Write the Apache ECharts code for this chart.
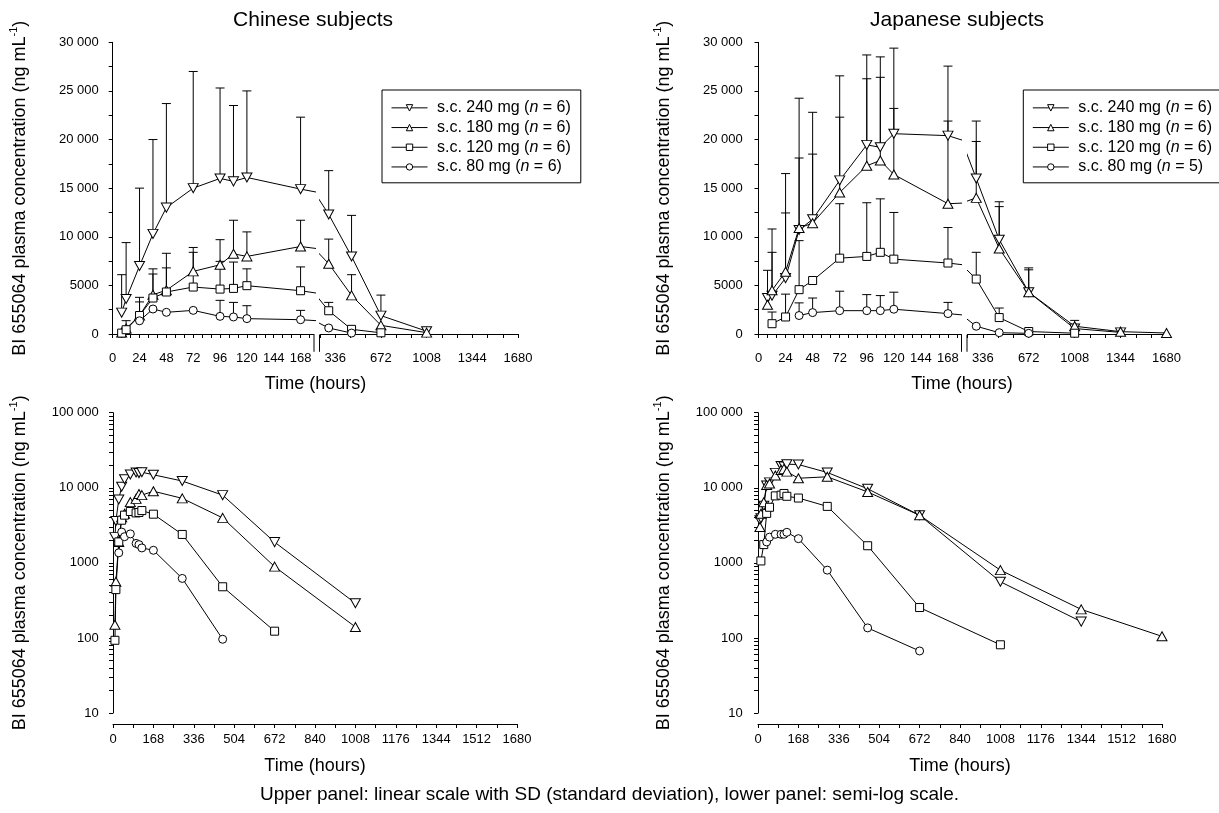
<!DOCTYPE html>
<html><head><meta charset="utf-8">
<script src="https://cdn.jsdelivr.net/npm/echarts@6/dist/echarts.min.js"></script>
<style>html,body{margin:0;padding:0;background:#fff}#c{width:1219px;height:813px}</style>
</head><body><div id="c"></div>
<script>
// ---------------- DATA ----------------
const cnTimes = [8, 12, 24, 36, 48, 72, 96, 108, 120, 168, 288, 456, 672, 1008];
const cn240 = [2200, 3600, 7000, 10300, 13000, 15000, 16000, 15700, 16100, 14900, 12300, 7980, 1890, 290];
const cn240Upper = [6100, 9400, 15000, 20000, 23700, 27000, 25300, 23500, 25000, 22300, 16800, 12200, 4000, null];
const cn180 = [150, 560, 1900, 4040, 4500, 6440, 7120, 8250, 7980, 9000, 7230, 3970, 890, 140];
const cn180Upper = [null, 1370, 3770, 6700, 8300, 8900, 9700, 11700, 10500, 11700, 9760, 6100, null, null];
const cn120 = [93, 440, 1900, 3700, 4320, 4830, 4620, 4690, 4970, 4450, 2390, 480, 123, null];
const cn120Upper = [null, null, 3300, 6170, 6800, 8400, 7470, 7400, 6700, 6900, 3250, null, null, null];
const cn80 = [null, null, 1360, 2570, 2230, 2430, 1815, 1750, 1580, 1470, 620, 96, null, null];
const cn80Upper = [null, null, null, null, null, null, 3460, 3250, 2910, 2430, null, null, null, null];

const jpTimes = [8, 12, 24, 36, 48, 72, 96, 108, 120, 168, 288, 456, 672, 1008, 1344, 1680];
const jp240 = [3700, 3940, 5750, 10700, 11800, 15800, 19450, 19200, 20600, 20400, 16000, 9700, 4300, 560, 165, null];
const jp240Upper = [null, 10800, 16500, 24250, 22800, 26550, 28700, 28500, 29400, 27550, 21900, 13600, 6800, 1400, null, null];
const jp180 = [3000, 4500, 6400, 10900, 11400, 14550, 17300, 17850, 16400, 13400, 14000, 8800, 4300, 800, 240, 105];
const jp180Upper = [6550, 8400, 12450, 18100, 18500, 22300, 26250, 26400, 23200, 21900, 19800, 13100, 6600, null, null, null];
const jp120 = [null, 1060, 1750, 4560, 5500, 7800, 7980, 8400, 7700, 7300, 5650, 1690, 254, 81, null, null];
const jp120Upper = [null, 2260, 4100, 9600, null, 13400, 13500, 13900, 12500, 10950, 8400, 2670, null, null, null, null];
const jp80 = [null, null, null, 1900, 2200, 2400, 2400, 2400, 2550, 2100, 800, 136, 67, null, null, null];
const jp80Upper = [null, null, null, 3200, 3700, 4400, 4050, 3950, 4300, 3250, null, null, null, null, null, null];

const cnNames = ['s.c. 240 mg (n = 6)', 's.c. 180 mg (n = 6)', 's.c. 120 mg (n = 6)', 's.c. 80 mg (n = 6)'];
const jpNames = ['s.c. 240 mg (n = 6)', 's.c. 180 mg (n = 6)', 's.c. 120 mg (n = 6)', 's.c. 80 mg (n = 5)'];

const topYLabels = [0, 5000, 10000, 15000, 20000, 25000, 30000];
const leftXLabels = [0, 24, 48, 72, 96, 120, 144, 168];
const rightXLabels = [336, 672, 1008, 1344, 1680];
const bottomXLabels = [0, 168, 336, 504, 672, 840, 1008, 1176, 1344, 1512, 1680];
const logYLabels = [10, 100, 1000, 10000, 100000];

// ---------------- LAYOUT / STYLE ----------------
const FONT = "'Liberation Sans', Arial, Helvetica, sans-serif";
const LEFT_MAX = 180, RIGHT_MIN = 224;
function range(a, b, s) { const r = []; for (let v = a; v <= b + 1e-9; v += s) r.push(v); return r; }
const leftTicks = range(0, 176, 8);
const rightTicks = range(224, 1680, 112);
const bottomTicks = range(0, 1680, 84);
const logTicks = [];
[10, 100, 1000, 10000].forEach(d => { for (let k = 1; k <= 9; k++) logTicks.push(d * k); });
logTicks.push(100000);

function fmtNum(v) {
  v = Math.round(v);
  if (v >= 10000) return String(v).replace(/\B(?=(\d{3})+(?!\d))/g, ' ');
  return String(v);
}

const SYM = {
  down: 'path://M0,0L20,0L10,18Z',
  up: 'path://M10,0L20,18L0,18Z',
  sq: 'rect',
  ci: 'circle'
};
const SYMSIZE = { down: [10, 9], up: [10, 9], sq: 8, ci: 8 };

const axisBase = {
  axisLine: { show: true, lineStyle: { color: '#000', width: 1 } },
  axisTick: { show: true, length: 4, lineStyle: { color: '#000', width: 1 } },
  axisLabel: { color: '#000', fontSize: 13, fontFamily: FONT },
  splitLine: { show: false }
};

const grids = [
  { left: 112.7, top: 42.3, width: 201.3, height: 291.7 },   // 0 CN top left
  { left: 320, top: 42.3, width: 198, height: 291.7 },       // 1 CN top right
  { left: 758.5, top: 42.3, width: 203, height: 291.7 },     // 2 JP top left
  { left: 967.5, top: 42.3, width: 199, height: 291.7 },     // 3 JP top right
  { left: 113, top: 412.7, width: 404, height: 300.3 },      // 4 CN bottom
  { left: 758, top: 412.7, width: 404, height: 300.3 }       // 5 JP bottom
];

const yName = 'BI 655064 plasma concentration (ng mL{sup|-1})';
const yNameStyle = { color: '#000', fontSize: 18, fontFamily: FONT, lineHeight: 22,
  rich: { sup: { fontSize: 11, fontFamily: FONT, color: '#000', verticalAlign: 'top', lineHeight: 14 } } };

function topY(gi, offset, show) {
  return Object.assign({}, axisBase, {
    type: 'value', gridIndex: gi, min: 0, max: 30000, interval: 5000, show: show, offset: offset,
    minorTick: { show: true, splitNumber: 2, length: 4, lineStyle: { color: '#000' } },
    minorSplitLine: { show: false },
    axisLabel: Object.assign({}, axisBase.axisLabel, { margin: 8, formatter: v => fmtNum(v), customValues: topYLabels }),
    name: show ? yName : '', nameLocation: 'middle', nameGap: 76, nameTextStyle: yNameStyle
  });
}
function logY(gi, offset) {
  return Object.assign({}, axisBase, {
    type: 'log', logBase: 10, gridIndex: gi, min: 10, max: 100000, offset: offset,
    axisTick: Object.assign({}, axisBase.axisTick, { customValues: logTicks }),
    axisLabel: Object.assign({}, axisBase.axisLabel, { margin: 8, formatter: v => fmtNum(v), customValues: logYLabels }),
    name: yName, nameLocation: 'middle', nameGap: 76, nameTextStyle: yNameStyle
  });
}
function segX(gi, min, max, ticks, labels) {
  return Object.assign({}, axisBase, {
    type: 'value', gridIndex: gi, min: min, max: max, offset: 9,
    axisTick: Object.assign({}, axisBase.axisTick, { customValues: ticks }),
    axisLabel: Object.assign({}, axisBase.axisLabel, { margin: 9, customValues: labels, formatter: v => String(Math.round(v)) })
  });
}
function botX(gi) {
  return Object.assign({}, axisBase, {
    type: 'value', gridIndex: gi, min: 0, max: 1680, offset: 11,
    axisTick: Object.assign({}, axisBase.axisTick, { customValues: bottomTicks }),
    axisLabel: Object.assign({}, axisBase.axisLabel, { margin: 9, customValues: bottomXLabels, formatter: v => String(Math.round(v)) }),
    name: 'Time (hours)', nameLocation: 'middle', nameGap: 33,
    nameTextStyle: { color: '#000', fontSize: 18, fontFamily: FONT }
  });
}

const xAxes = [
  segX(0, 0, LEFT_MAX, leftTicks, leftXLabels),
  segX(1, RIGHT_MIN, 1680, rightTicks, rightXLabels),
  segX(2, 0, LEFT_MAX, leftTicks, leftXLabels),
  segX(3, RIGHT_MIN, 1680, rightTicks, rightXLabels),
  botX(4), botX(5)
];
const yAxes = [
  topY(0, 6, true), topY(1, 0, false), topY(2, 7.8, true), topY(3, 0, false),
  logY(4, 6.3), logY(5, 7.3)
];

// ---------------- SERIES ----------------
function lineSeries(name, data, sym, xi, yi) {
  return {
    type: 'line', name: name, xAxisIndex: xi, yAxisIndex: yi, data: data, clip: true,
    symbol: SYM[sym], symbolSize: SYMSIZE[sym], showSymbol: true,
    lineStyle: { color: '#000', width: 1 },
    itemStyle: { color: '#fff', borderColor: '#000', borderWidth: 1 },
    emphasis: { disabled: true }, z: 3, animation: false
  };
}
function errRender(params, api) {
  const t = api.value(0), m = api.value(1), u = api.value(2);
  const p0 = api.coord([t, m]), p1 = api.coord([t, u]);
  return { type: 'group', children: [
    { type: 'line', shape: { x1: p0[0], y1: p0[1], x2: p1[0], y2: p1[1] }, style: { stroke: '#000', lineWidth: 1 } },
    { type: 'line', shape: { x1: p1[0] - 4.5, y1: p1[1], x2: p1[0] + 4.5, y2: p1[1] }, style: { stroke: '#000', lineWidth: 1 } }
  ] };
}
function errSeries(data, xi, yi) {
  return { type: 'custom', xAxisIndex: xi, yAxisIndex: yi, data: data, renderItem: errRender,
    encode: { x: 0, y: [1, 2] }, z: 1, silent: true, animation: false };
}

function buildTop(times, vals, uppers, name, sym, gl, gr) {
  const pts = times.map((t, i) => [t, vals[i]]).filter(p => p[1] != null);
  const L = pts.filter(p => p[0] <= LEFT_MAX), R = pts.filter(p => p[0] >= RIGHT_MIN);
  const errs = times.map((t, i) => [t, vals[i], uppers[i]]).filter(d => d[1] != null && d[2] != null);
  return [
    lineSeries(name, L.concat(R.slice(0, 1)), sym, gl, gl),
    lineSeries(name, L.slice(-1).concat(R), sym, gr, gr),
    errSeries(errs.filter(d => d[0] <= LEFT_MAX), gl, gl),
    errSeries(errs.filter(d => d[0] >= RIGHT_MIN), gr, gr)
  ];
}
function buildLog(times, vals, name, sym, gi) {
  const pts = times.map((t, i) => [t, vals[i]]).filter(p => p[1] != null);
  return lineSeries(name, pts, sym, gi, gi);
}

const series = [];
const cnSets = [[cn240, cn240Upper, 'down'], [cn180, cn180Upper, 'up'], [cn120, cn120Upper, 'sq'], [cn80, cn80Upper, 'ci']];
const jpSets = [[jp240, jp240Upper, 'down'], [jp180, jp180Upper, 'up'], [jp120, jp120Upper, 'sq'], [jp80, jp80Upper, 'ci']];
cnSets.forEach((s, i) => { series.push(...buildTop(cnTimes, s[0], s[1], cnNames[i], s[2], 0, 1)); series.push(buildLog(cnTimes, s[0], cnNames[i], s[2], 4)); });
jpSets.forEach((s, i) => { series.push(...buildTop(jpTimes, s[0], s[1], jpNames[i], s[2], 2, 3)); series.push(buildLog(jpTimes, s[0], jpNames[i], s[2], 5)); });

function legend(left, names) {
  return {
    orient: 'vertical', left: left, top: 90, data: names, itemWidth: 36, itemHeight: 8, itemGap: 0,
    padding: [8, 10, 6, 9], borderColor: '#000', borderWidth: 1, selectedMode: false,
    itemStyle: { color: '#fff', borderColor: '#000', borderWidth: 1 },
    lineStyle: { color: '#000', width: 1 },
    formatter: n => ' ' + n.replace('(n', '({i|n}'),
    textStyle: { color: '#000', fontSize: 16, fontFamily: FONT, lineHeight: 19.7,
      rich: { i: { fontStyle: 'italic', fontSize: 16, fontFamily: FONT, color: '#000', lineHeight: 19.7 } } }
  };
}

function txt(x, y, text, size) {
  return { type: 'text', x: x, y: y, silent: true,
    style: { text: text, fill: '#000', font: size + 'px ' + FONT, textAlign: 'center', textVerticalAlign: 'middle' } };
}
function brk(x, y) {
  return { type: 'line', silent: true, shape: { x1: x, y1: y - 8.5, x2: x, y2: y + 8.5 }, style: { stroke: '#000', lineWidth: 1 } };
}

const option = {
  animation: false, backgroundColor: '#fff', textStyle: { fontFamily: FONT },
  grid: grids, xAxis: xAxes, yAxis: yAxes, series: series,
  legend: [legend(382, cnNames), legend(1023.3, jpNames)],
  graphic: [
    txt(313, 20, 'Chinese subjects', 21),
    txt(957, 20, 'Japanese subjects', 21),
    txt(315.5, 384, 'Time (hours)', 18),
    txt(962, 384, 'Time (hours)', 18),
    txt(609.5, 795, 'Upper panel: linear scale with SD (standard deviation), lower panel: semi-log scale.', 19),
    brk(314, 343.3), brk(319.5, 343.3), brk(961.5, 343.3), brk(967, 343.3)
  ]
};
const chart = echarts.init(document.getElementById('c'), null, { renderer: 'canvas' });
chart.setOption(option);
</script></body></html>
